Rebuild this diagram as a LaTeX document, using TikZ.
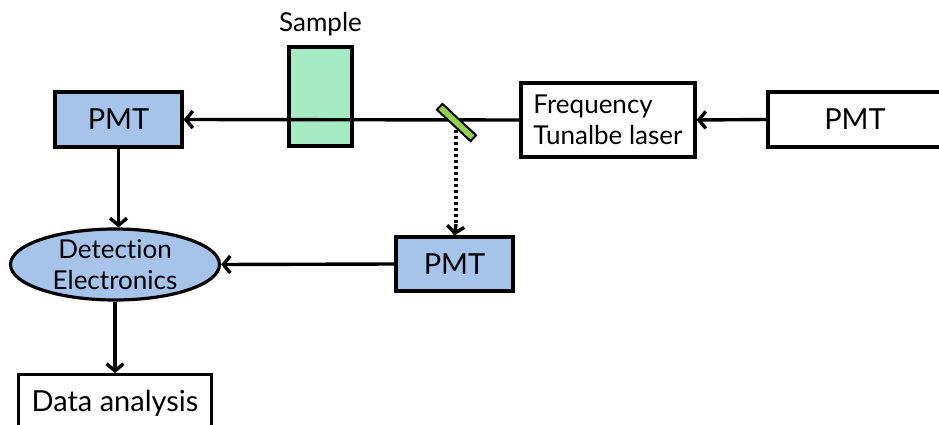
\documentclass[tikz,border=0pt]{standalone}
\usepackage{fontspec}
\setmainfont{Lato}[Ligatures={NoCommon,NoContextual}]
\usetikzlibrary{arrows.meta,shapes.geometric}
\definecolor{pmtblue}{RGB}{166,196,234}
\definecolor{samplegreen}{RGB}{164,235,196}
\definecolor{mirrorgreen}{RGB}{146,208,80}
\tikzset{
  box/.style={draw=black, line width=3.2pt, inner sep=0pt, font=\fontsize{29}{33}\selectfont},
  bluebox/.style={box, fill=pmtblue},
  conn/.style={line width=3.4pt, -{Straight Barb[length=7pt,width=17pt,line width=3.4pt]}},
}
\begin{document}
\begin{tikzpicture}[x=1pt,y=-1pt]
\useasboundingbox (0,0) rectangle (939,425);
\clip (0,0) rectangle (939,425);
\fill[white] (0,0) rectangle (939,425);
% nodes
\node[bluebox, minimum width=127pt, minimum height=55pt] (pmt1) at (118.5,119.5) {PMT};
\node[box, fill=samplegreen, minimum width=63pt, minimum height=99pt] (sample) at (320.5,96.5) {};
\node[font=\fontsize{26}{30}\selectfont] (samplelabel) at (320.5,24) {Sample};
\node[box, minimum width=174pt, minimum height=74pt, align=left, font=\fontsize{26}{31}\selectfont] (laser) at (608,120) {Frequency\\Tunalbe laser};
\node[box, minimum width=174pt, minimum height=55pt] (pmt3) at (855,119.5) {PMT};
\node[bluebox, minimum width=117pt, minimum height=54pt] (pmt2) at (454.5,264) {PMT};
\node[ellipse, draw=black, line width=3.2pt, fill=pmtblue, inner sep=0pt, minimum width=209pt, minimum height=71pt, align=center, font=\fontsize{26}{31}\selectfont] (ele) at (115,264.5) {Detect\kern0pt ion\\Electronics};
\node[box, minimum width=193pt, minimum height=58pt, anchor=north] (data) at (115,373) {\raisebox{-4pt}{Data analysis}};
% beam
\draw[conn] (laser.west) -- (pmt1.east);
\draw[conn] (pmt3.west) -- (laser.east);
\coordinate (mc) at (456,124);
\draw[line width=3.4pt, dash pattern=on 3pt off 3pt] (mc) -- (456,226);
\draw[conn] (456,224) -- (pmt2.north);
\node[draw=black, line width=2pt, fill=mirrorgreen, minimum width=46pt, minimum height=8pt, inner sep=0pt, rotate=-43] (mirror) at (456.5,122.5) {};
% signal path
\draw[conn] (pmt2.west) -- (ele.east);
\draw[conn] (pmt1.south) -- (pmt1.south |- ele.north);
\draw[conn] (ele.south) -- (data.north);
\end{tikzpicture}
\end{document}
